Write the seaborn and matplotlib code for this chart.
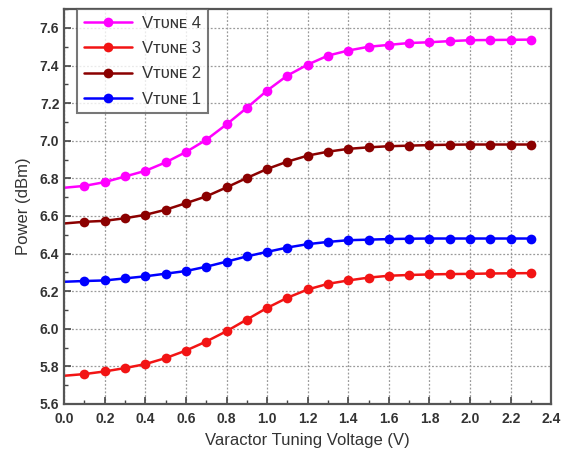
import numpy as np
import pandas as pd
import matplotlib
matplotlib.use("Agg")
import matplotlib.pyplot as plt
from matplotlib.ticker import MultipleLocator, FormatStrFormatter
import seaborn as sns

# Varactor tuning voltage (V)
voltage = [0.0, 0.1, 0.2, 0.3, 0.4, 0.5, 0.6, 0.7, 0.8, 0.9, 1.0, 1.1,
           1.2, 1.3, 1.4, 1.5, 1.6, 1.7, 1.8, 1.9, 2.0, 2.1, 2.2, 2.3]

# Output power (dBm) for each tuning setting
vtune4 = [6.75, 6.76, 6.78, 6.81, 6.84, 6.885, 6.94, 7.005, 7.087, 7.175, 7.267, 7.347,
          7.405, 7.453, 7.48, 7.50, 7.51, 7.52, 7.524, 7.53, 7.535, 7.536, 7.537, 7.538]
vtune3 = [5.75, 5.759, 5.773, 5.791, 5.812, 5.844, 5.884, 5.932, 5.987, 6.049, 6.111, 6.165,
          6.209, 6.239, 6.257, 6.272, 6.282, 6.286, 6.289, 6.291, 6.292, 6.294, 6.295, 6.296]
vtune2 = [6.56, 6.569, 6.574, 6.588, 6.606, 6.633, 6.668, 6.704, 6.752, 6.802, 6.85, 6.889,
          6.921, 6.942, 6.957, 6.965, 6.971, 6.974, 6.977, 6.979, 6.98, 6.98, 6.98, 6.98]
vtune1 = [6.25, 6.254, 6.257, 6.268, 6.279, 6.293, 6.307, 6.33, 6.357, 6.385, 6.409, 6.432,
          6.45, 6.462, 6.471, 6.474, 6.477, 6.479, 6.48, 6.48, 6.48, 6.48, 6.48, 6.48]

labels = ["V\u1d1b\u1d1c\u0274\u1d07 4", "V\u1d1b\u1d1c\u0274\u1d07 3",
          "V\u1d1b\u1d1c\u0274\u1d07 2", "V\u1d1b\u1d1c\u0274\u1d07 1"]
series = [vtune4, vtune3, vtune2, vtune1]
colors = ["#ff00ff", "#f21414", "#8b0000", "#0000ff"]

df = pd.concat(
    [pd.DataFrame({"voltage": voltage, "power": s, "setting": lab})
     for lab, s in zip(labels, series)],
    ignore_index=True,
)

sns.set_theme(style="white")
plt.rcParams["font.family"] = ["Liberation Sans", "DejaVu Sans"]

fig = plt.figure(figsize=(5.73, 4.58), dpi=100)
ax = fig.add_axes([0.112, 0.118, 0.850, 0.862])

sns.lineplot(
    data=df, x="voltage", y="power", hue="setting",
    hue_order=labels, palette=dict(zip(labels, colors)),
    marker="o", markersize=7, markeredgewidth=0, linewidth=1.8,
    markevery=list(range(1, len(voltage))), ax=ax,
)

ax.set_xlim(0, 2.4)
ax.set_ylim(5.6, 7.7)
ax.xaxis.set_major_locator(MultipleLocator(0.2))
ax.xaxis.set_minor_locator(MultipleLocator(0.1))
ax.yaxis.set_major_locator(MultipleLocator(0.2))
ax.yaxis.set_minor_locator(MultipleLocator(0.1))
ax.xaxis.set_major_formatter(FormatStrFormatter("%.1f"))
ax.yaxis.set_major_formatter(FormatStrFormatter("%.1f"))

ax.grid(True, which="major", linestyle=(0, (1.5, 1.5)), color="#9a9a9a", linewidth=0.9)
ax.tick_params(which="both", direction="in", left=True, bottom=True,
               colors="#444444", labelcolor="#333333")
ax.tick_params(which="major", length=5, width=1.2, labelsize=10)
ax.tick_params(axis="x", which="major", pad=6)
ax.tick_params(which="minor", length=3, width=1.0)
for lab in ax.get_xticklabels() + ax.get_yticklabels():
    lab.set_fontweight("bold")

for sp in ax.spines.values():
    sp.set_color("#555555")
    sp.set_linewidth(1.6)

ax.set_xlabel("Varactor Tuning Voltage (V)", fontsize=12, color="#333333", labelpad=5)
ax.set_ylabel("Power (dBm)", fontsize=12, color="#333333", labelpad=6)

leg = ax.legend(loc="upper left", bbox_to_anchor=(0.026, 1.0), borderaxespad=0.0,
                fontsize=12, handlelength=2.9, handletextpad=0.6, labelspacing=0.62,
                borderpad=0.4, frameon=True, fancybox=False, title=None)
leg.get_frame().set_edgecolor("#555555")
leg.get_frame().set_linewidth(1.5)
for t in leg.get_texts():
    t.set_color("#333333")

fig.savefig("out.png", dpi=100)
